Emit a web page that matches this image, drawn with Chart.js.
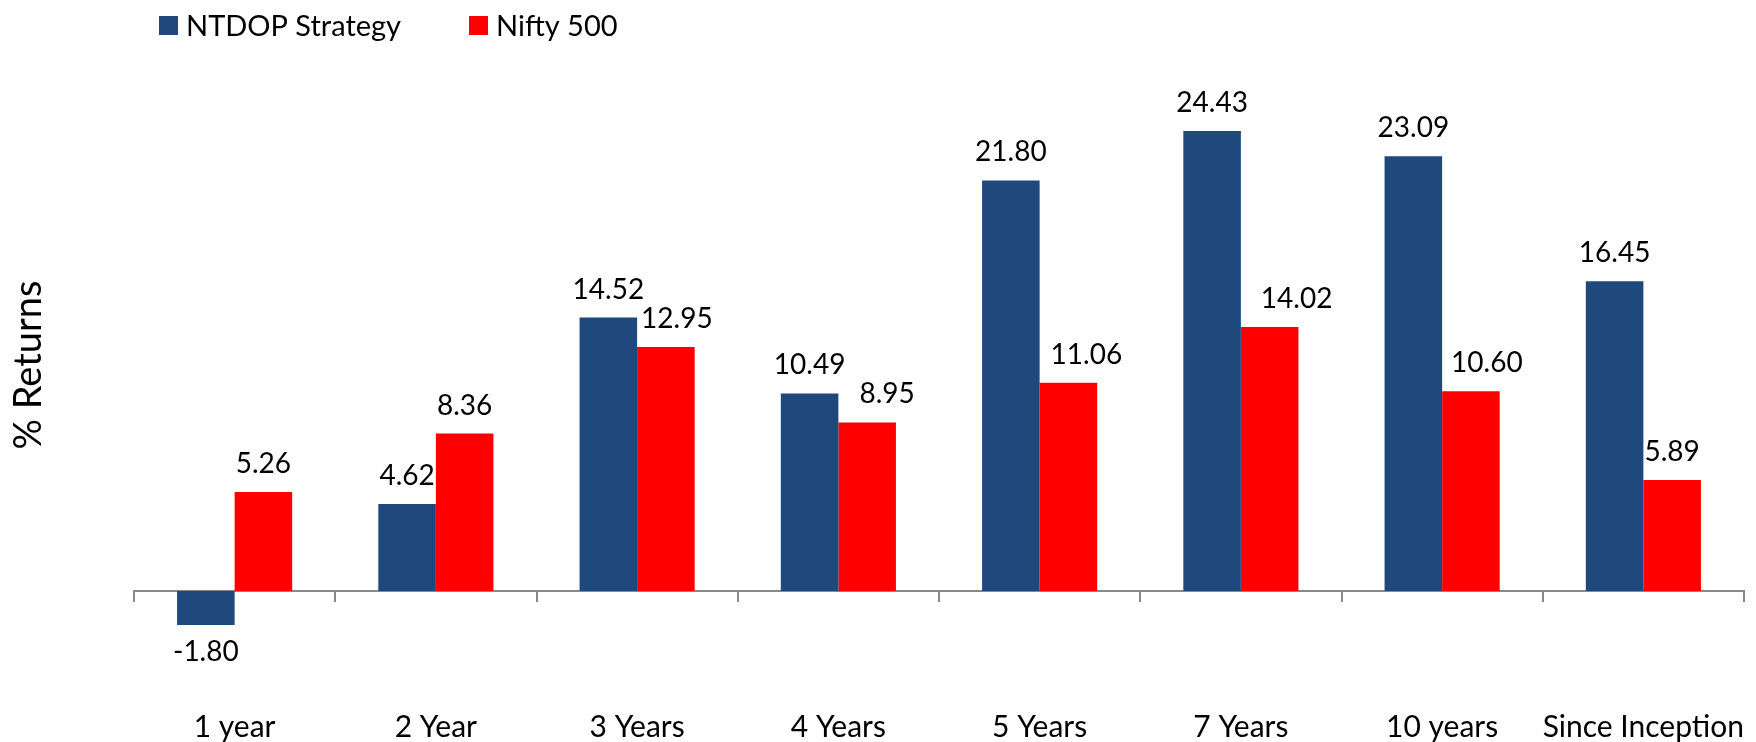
<!DOCTYPE html>
<html>
<head>
<meta charset="utf-8">
<title>NTDOP Strategy vs Nifty 500</title>
<script src="https://cdn.jsdelivr.net/npm/chart.js@4.4.1/dist/chart.umd.min.js"></script>
<style>
  html, body { margin: 0; padding: 0; background: #fff; }
  #wrap { width: 1756px; height: 742px; position: relative; }
</style>
</head>
<body>
<div id="wrap"><canvas id="returnsChart"></canvas></div>
<script>
const periods = ['1 year', '2 Year', '3 Years', '4 Years', '5 Years', '7 Years', '10 years', 'Since Inception'];
const strategyReturns = [-1.80, 4.62, 14.52, 10.49, 21.80, 24.43, 23.09, 16.45];
const niftyReturns = [5.26, 8.36, 12.95, 8.95, 11.06, 14.02, 10.60, 5.89];
const seriesNames = ['NTDOP Strategy', 'Nifty 500'];
const axisRange = [-6, 30];
const yAxisTitle = '% Returns';

const FONT = 'Lato, "Open Sans", sans-serif';
const AXIS_GREY = '#898989';

// legend drawn by hand so the two items can sit where the original has them
const topLegend = {
    id: 'topLegend',
    afterDraw(chart, args, opts) {
        const ctx = chart.ctx;
        ctx.save();
        ctx.font = `${opts.size}px ${FONT}`;
        ctx.textBaseline = 'middle';
        ctx.textAlign = 'left';
        chart.data.datasets.forEach((ds, i) => {
            const x = opts.starts[i];
            ctx.fillStyle = ds.backgroundColor;
            ctx.fillRect(x, opts.top, opts.box, opts.box);
            ctx.fillStyle = '#000';
            ctx.fillText(ds.label, x + opts.box + opts.gap, opts.top + opts.box / 2 + 1);
        });
        ctx.restore();
    }
};

// value on top of each bar (below it when negative); some labels were nudged sideways in the original
const valueLabels = {
    id: 'valueLabels',
    afterDatasetsDraw(chart, args, opts) {
        const ctx = chart.ctx;
        ctx.save();
        ctx.font = `${opts.size}px ${FONT}`;
        ctx.fillStyle = '#000';
        ctx.textAlign = 'center';
        ctx.textBaseline = 'alphabetic';
        chart.data.datasets.forEach((ds, i) => {
            const nudge = opts.nudge[i] || [];
            chart.getDatasetMeta(i).data.forEach((bar, j) => {
                const v = ds.data[j];
                const y = v >= 0 ? bar.y - opts.above : bar.y + opts.below;
                ctx.fillText(v.toFixed(2), bar.x + (nudge[j] || 0), y);
            });
        });
        ctx.restore();
    }
};

new Chart(document.getElementById('returnsChart'), {
    type: 'bar',
    data: {
        labels: periods,
        datasets: [
            { label: seriesNames[0], data: strategyReturns, backgroundColor: '#1F497D' },
            { label: seriesNames[1], data: niftyReturns, backgroundColor: '#FF0000' }
        ]
    },
    options: {
        responsive: true,
        maintainAspectRatio: false,
        animation: false,
        categoryPercentage: 0.572,
        barPercentage: 1,
        layout: { padding: { top: 26, right: 12, bottom: -8, left: 0 } },
        plugins: {
            legend: { display: false },
            tooltip: { enabled: false },
            topLegend: { starts: [159, 469], top: 16, box: 19, gap: 8, size: 29 },
            valueLabels: {
                size: 28, above: 19, below: 36,
                nudge: [[], [0, 0, 11, 20, 18, 27, 16, 0]]
            }
        },
        scales: {
            x: {
                grid: { display: false, drawTicks: false },
                border: { display: false },
                ticks: { color: '#000', font: { family: FONT, size: 30 }, padding: 5, maxRotation: 0, autoSkip: false }
            },
            zero: {
                type: 'category',
                axis: 'x',
                position: { y: 0 },
                offset: true,
                grid: { display: true, offset: true, drawOnChartArea: false, drawTicks: true, tickLength: 10, color: AXIS_GREY, lineWidth: 2 },
                border: { display: true, color: AXIS_GREY, width: 2 },
                ticks: { display: false }
            },
            y: {
                min: axisRange[0],
                max: axisRange[1],
                grid: { display: false },
                border: { display: false },
                ticks: { display: false },
                title: { display: true, text: yAxisTitle, color: '#000', font: { family: FONT, size: 38 }, padding: { top: 6, bottom: 0 } },
                afterFit(scale) { scale.width = 134; }
            }
        }
    },
    plugins: [valueLabels, topLegend]
});
</script>
</body>
</html>
